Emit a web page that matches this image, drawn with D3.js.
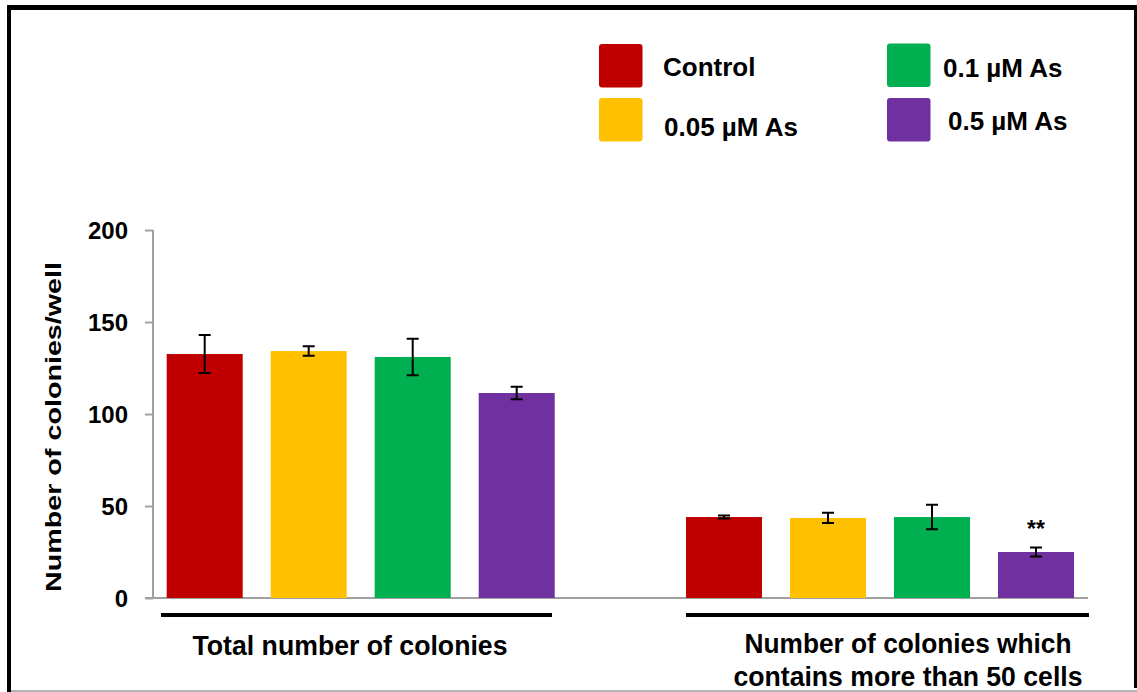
<!DOCTYPE html>
<html>
<head>
<meta charset="utf-8">
<script src="https://cdn.jsdelivr.net/npm/d3@7"></script>
<style>
  html, body { margin: 0; padding: 0; background: #fff; }
  svg { display: block; }
  text { font-family: "Liberation Sans", Arial, sans-serif; font-weight: bold; fill: #000; }
  .narrow { font-family: "Liberation Sans Narrow", "Arial Narrow", "Liberation Sans", Arial, sans-serif; }
</style>
</head>
<body>
<svg id="chart" width="1137" height="692"></svg>
<script>
// Colony counts per well for each arsenic treatment
const groups = ["Total number of colonies", "Number of colonies which contains more than 50 cells"];
const groupLabelLines = [["Total number of colonies"], ["Number of colonies which", "contains more than 50 cells"]];
const treatments = ["Control", "0.05 µM As", "0.1 µM As", "0.5 µM As"];
const colors = ["#C00000", "#FFC000", "#00B050", "#7030A0"];
const totalMeans = [132.6, 134.2, 131.0, 111.4];
const totalErrors = [10.3, 2.6, 9.9, 3.4];
const largeMeans = [44.0, 43.5, 44.0, 25.0];
const largeErrors = [0.8, 2.8, 6.7, 2.5];
const significance = ["", "", "", "**"];
const yTicks = [0, 50, 100, 150, 200];
const yLabel = "Number of  colonies/well";

const means = [totalMeans, largeMeans];
const errors = [totalErrors, largeErrors];
const rows = [];
groups.forEach((g, gi) => treatments.forEach((t, ti) => rows.push({
  group: g, treatment: t, color: colors[ti], value: means[gi][ti], err: errors[gi][ti],
  mark: gi === 1 ? significance[ti] : ""
})));

const svg = d3.select("#chart");

// Frame around the figure
svg.append("rect").attr("x", 7).attr("y", 5).attr("width", 1130).attr("height", 5).attr("fill", "#000");
svg.append("rect").attr("x", 7).attr("y", 5).attr("width", 4).attr("height", 687).attr("fill", "#000");
svg.append("rect").attr("x", 1134).attr("y", 5).attr("width", 3).attr("height", 683).attr("fill", "#000");
svg.append("line").attr("x1", 11).attr("x2", 1137).attr("y1", 691).attr("y2", 691)
  .attr("stroke", "#9a9a9a").attr("stroke-width", 1.5);

// Scales
const y = d3.scaleLinear().domain([0, 200]).range([598, 230]);
const x0 = d3.scaleBand().domain(groups).range([166.7, 1074]).paddingInner(131.3 / 519.3).paddingOuter(0);
const x1 = d3.scaleBand().domain(treatments).range([0, x0.bandwidth()]).paddingInner(28 / 104).paddingOuter(0);

// Y axis
const yAxis = d3.axisLeft(y).tickValues(yTicks).tickSize(8).tickPadding(0);
const yg = svg.append("g").attr("transform", "translate(153,0)").call(yAxis);
yg.select(".domain").attr("stroke", "#a0a0a0").attr("stroke-width", 2).attr("d", `M0,${y(200)}V${y(0)}`);
yg.selectAll(".tick line").attr("stroke", "#a0a0a0").attr("stroke-width", 2);
yg.selectAll(".tick text")
  .attr("x", -25)
  .attr("dy", "0.36em")
  .style("font-family", '"Liberation Sans", Arial, sans-serif')
  .style("font-weight", "bold")
  .style("font-size", "24px")
  .attr("fill", "#000");

// Baseline across both groups
svg.append("line").attr("x1", 145).attr("x2", 1088).attr("y1", y(0)).attr("y2", y(0))
  .attr("stroke", "#a0a0a0").attr("stroke-width", 2);

// Y axis title
svg.append("text")
  .attr("transform", `translate(61,427) rotate(-90)`)
  .attr("text-anchor", "middle")
  .style("font-size", "22px")
  .attr("textLength", 330)
  .attr("lengthAdjust", "spacingAndGlyphs")
  .text(yLabel);

// Bars
const bars = svg.append("g");
bars.selectAll("rect").data(rows).join("rect")
  .attr("x", d => x0(d.group) + x1(d.treatment))
  .attr("width", x1.bandwidth())
  .attr("y", d => y(d.value))
  .attr("height", d => y(0) - y(d.value))
  .attr("fill", d => d.color);

// Error bars
const cap = 6;
const eb = svg.append("g").attr("stroke", "#000").attr("stroke-width", 2).attr("fill", "none");
rows.forEach(d => {
  const cx = x0(d.group) + x1(d.treatment) + x1.bandwidth() / 2;
  const top = y(d.value + d.err), bot = y(d.value - d.err);
  eb.append("path").attr("d", `M${cx},${top}V${bot}M${cx - cap},${top}H${cx + cap}M${cx - cap},${bot}H${cx + cap}`);
});

// Significance marks
svg.append("g").selectAll("text").data(rows.filter(d => d.mark)).join("text")
  .attr("x", d => x0(d.group) + x1(d.treatment) + x1.bandwidth() / 2)
  .attr("y", d => y(d.value + d.err) - 10)
  .attr("text-anchor", "middle")
  .style("font-size", "23px")
  .text(d => d.mark);

// Group underlines and names
const lineSpans = [[161, 552], [686, 1089]];
groups.forEach((g, gi) => {
  svg.append("rect").attr("x", lineSpans[gi][0]).attr("y", 613)
    .attr("width", lineSpans[gi][1] - lineSpans[gi][0]).attr("height", 4).attr("fill", "#000");
});
const labelCenters = [350, 908];
const labelWidths = [[315], [327, 349]];
groupLabelLines.forEach((lines, gi) => {
  lines.forEach((ln, li) => {
    svg.append("text").attr("class", "narrow")
      .attr("x", labelCenters[gi])
      .attr("y", (gi === 0 ? 655 : 653) + li * 33)
      .attr("text-anchor", "middle")
      .style("font-size", "28px")
      .attr("textLength", labelWidths[gi][li])
      .attr("lengthAdjust", "spacingAndGlyphs")
      .text(ln);
  });
});

// Legend
const legendPos = [[599, 44, 663, 75.5], [599, 98, 664, 136], [887, 43.5, 943, 77], [887, 98, 948, 129.5]];
const legend = svg.append("g");
treatments.forEach((t, i) => {
  const [sx, sy, tx, ty] = legendPos[i];
  legend.append("rect").attr("x", sx).attr("y", sy).attr("width", 43.5).attr("height", 43.5)
    .attr("rx", 3).attr("fill", colors[i]);
  legend.append("text").attr("x", tx).attr("y", ty).style("font-size", "26px").text(t);
});
</script>
</body>
</html>
